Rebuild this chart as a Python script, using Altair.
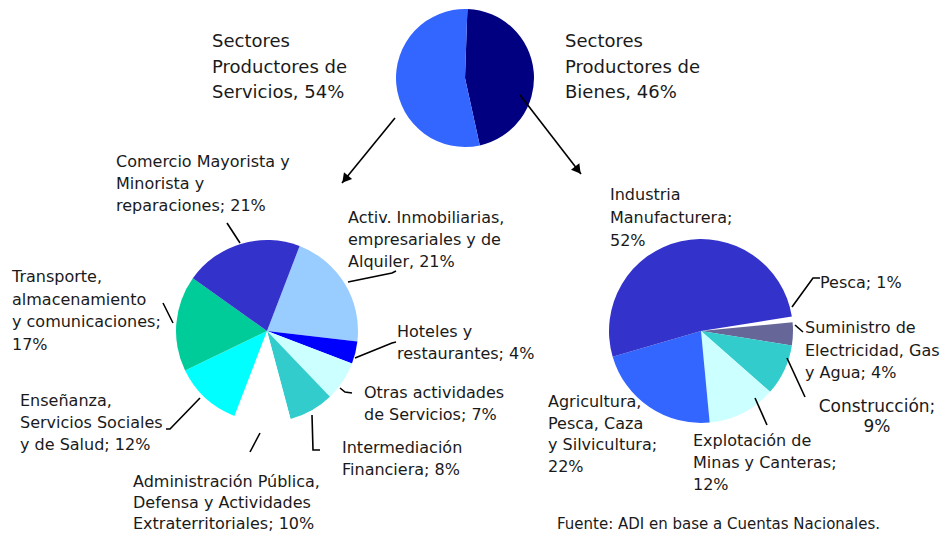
import math
import altair as alt
import pandas as pd

# ---------------- data ----------------
top_categories = ["Sectores Productores de Bienes", "Sectores Productores de Servicios"]
top_values = [46, 54]
top_colors = ["#000080", "#3366FF"]

serv_categories = [
    "Activ. Inmobiliarias, empresariales y de Alquiler",
    "Hoteles y restaurantes",
    "Otras actividades de Servicios",
    "Intermediación Financiera",
    "Administración Pública, Defensa y Actividades Extraterritoriales",
    "Enseñanza, Servicios Sociales y de Salud",
    "Transporte, almacenamiento y comunicaciones",
    "Comercio Mayorista y Minorista y reparaciones",
]
serv_values = [21, 4, 7, 8, 10, 12, 17, 21]
serv_colors = ["#99CCFF", "#0000FF", "#CCFFFF", "#33CCCC", "#FFFFFF", "#00FFFF", "#00CC99", "#3333CC"]

bien_categories = [
    "Pesca",
    "Suministro de Electricidad, Gas y Agua",
    "Construcción",
    "Explotación de Minas y Canteras",
    "Agricultura, Pesca, Caza y Silvicultura",
    "Industria Manufacturera",
]
bien_values = [1, 4, 9, 12, 22, 52]
bien_colors = ["#FFFFFF", "#666699", "#33CCCC", "#CCFFFF", "#3366FF", "#3333CC"]

source_text = "Fuente: ADI en base a Cuentas Nacionales."

# ---------------- layout ----------------
W, H = 932, 527
OFF = 8  # page margin

# label lines ({p} = percentage from data), x, first-line y, line height, font size, align
label_layout = [
    (["Sectores", "Productores de", "Servicios, {p}%"], top_values[1], 212, 42, 25.5, 18, "left"),
    (["Sectores", "Productores de", "Bienes, {p}%"], top_values[0], 565, 42, 25.5, 18, "left"),
    (["Comercio Mayorista y", "Minorista y", "reparaciones; {p}%"], serv_values[7], 116, 162, 22, 16, "left"),
    (["Activ. Inmobiliarias,", "empresariales y de", "Alquiler, {p}%"], serv_values[0], 348, 218, 22, 16, "left"),
    (["Transporte,", "almacenamiento", "y comunicaciones;", "{p}%"], serv_values[6], 12, 277, 22.7, 16, "left"),
    (["Hoteles y", "restaurantes; {p}%"], serv_values[1], 397, 332, 21.5, 16, "left"),
    (["Otras actividades", "de Servicios; {p}%"], serv_values[2], 364, 393, 21.5, 16, "left"),
    (["Intermediación", "Financiera; {p}%"], serv_values[3], 342, 448, 22, 16, "left"),
    (["Enseñanza,", "Servicios Sociales", "y de Salud; {p}%"], serv_values[5], 20, 401, 22, 16, "left"),
    (["Administración Pública,", "Defensa y Actividades", "Extraterritoriales; {p}%"], serv_values[4], 133, 482, 21, 16, "left"),
    (["Industria", "Manufacturera;", "{p}%"], bien_values[5], 610, 195, 23, 16, "left"),
    (["Pesca; {p}%"], bien_values[0], 820, 283, 22, 16, "left"),
    (["Suministro de", "Electricidad, Gas", "y Agua; {p}%"], bien_values[1], 805, 328, 22.5, 16, "left"),
    (["Construcción;", "{p}%"], bien_values[2], 877, 407, 20, 17, "center"),
    (["Agricultura,", "Pesca, Caza", "y Silvicultura;", "{p}%"], bien_values[4], 548, 402, 21.7, 16, "left"),
    (["Explotación de", "Minas y Canteras;", "{p}%"], bien_values[3], 693, 441, 22, 16, "left"),
]
source_layout = (557, 524, 15)

leader_lines = [
    [(227, 223), (240, 243)],
    [(163, 303), (173, 323)],
    [(166, 429), (170, 429), (200, 398)],
    [(250, 452), (260, 433)],
    [(312, 415), (313, 450), (320, 450)],
    [(340, 388), (345, 392), (352, 393)],
    [(355, 358), (392, 343), (396, 342)],
    [(348, 282), (392, 273), (396, 271)],
    [(792, 307), (813, 278), (820, 278)],
    [(795, 325), (803, 332)],
    [(787, 358), (805, 397)],
    [(755, 398), (767, 425)],
]
arrows = [((395, 118), (342, 183)), ((520, 95), (581, 174))]

# pies: center x, center y, radius, start angle (deg clockwise from 12 o'clock)
pie_top = (465, 78, 69, 2)
pie_serv = (267, 331, 91, 21)
pie_bien = (701, 331, 92, 81)

FONT = "DejaVu Sans"
TXT = "#1a1a1a"

xs = alt.Scale(domain=[OFF, OFF + W], range=[0, W])
ys = alt.Scale(domain=[OFF, OFF + H], range=[0, H])


def pie(cats, vals, colors, geo, tag):
    cx, cy, r, start = geo
    df = pd.DataFrame({f"cat_{tag}": cats, f"val_{tag}": vals, f"ord_{tag}": list(range(len(cats)))})
    a = math.radians(start)
    return alt.Chart(df).mark_arc(radius=r).encode(
        theta=alt.Theta(f"val_{tag}:Q", stack=True, scale=alt.Scale(range=[a, a + 2 * math.pi])),
        color=alt.Color(f"cat_{tag}:N", scale=alt.Scale(domain=cats, range=colors), legend=None),
        order=alt.Order(f"ord_{tag}:Q"),
        x=alt.value(cx - OFF),
        y=alt.value(cy - OFF),
    )


# text rows
rows = []
for lines, pct, x, y0, lh, fs, align in label_layout:
    for i, ln in enumerate(lines):
        rows.append({"x": x, "y": y0 + i * lh, "t": ln.format(p=pct), "fs": fs, "al": align})
rows.append({"x": source_layout[0], "y": source_layout[1], "t": source_text, "fs": source_layout[2], "al": "left"})
tdf = pd.DataFrame(rows)


def text_layer(align):
    return alt.Chart(tdf[tdf["al"] == align]).mark_text(
        align=align, baseline="middle", font=FONT, color=TXT
    ).encode(
        x=alt.X("x:Q", scale=xs, axis=None),
        y=alt.Y("y:Q", scale=ys, axis=None),
        text="t:N",
        size=alt.Size("fs:Q", scale=None),
    )


lrows = []
for i, pts in enumerate(leader_lines + [[a, b] for a, b in arrows]):
    for k, (x, y) in enumerate(pts):
        lrows.append({"id": i, "k": k, "x": x, "y": y})
ldf = pd.DataFrame(lrows)

lines_layer = alt.Chart(ldf).mark_line(color="#000000", strokeWidth=1.6).encode(
    x=alt.X("x:Q", scale=xs, axis=None),
    y=alt.Y("y:Q", scale=ys, axis=None),
    detail="id:N",
    order="k:Q",
)

arows = []
for (x0, y0), (x1, y1) in arrows:
    dx, dy = x1 - x0, y1 - y0
    n = math.hypot(dx, dy)
    ux, uy = dx / n, dy / n
    ang = math.degrees(math.atan2(ux, -uy)) % 360
    arows.append({"x": x1 - ux * 5, "y": y1 - uy * 5, "ang": ang})
adf = pd.DataFrame(arows)

heads = alt.Chart(adf).mark_point(shape="triangle-up", filled=True, color="#000000", size=110, opacity=1).encode(
    x=alt.X("x:Q", scale=xs, axis=None),
    y=alt.Y("y:Q", scale=ys, axis=None),
    angle=alt.Angle("ang:Q", scale=None),
)

chart = alt.layer(
    pie(top_categories, top_values, top_colors, pie_top, "t"),
    pie(serv_categories, serv_values, serv_colors, pie_serv, "s"),
    pie(bien_categories, bien_values, bien_colors, pie_bien, "b"),
    lines_layer,
    heads,
    text_layer("left"),
    text_layer("center"),
).resolve_scale(
    theta="independent", color="independent"
).properties(
    width=W, height=H, padding=0, autosize="none", background="white"
).configure_view(stroke=None)

chart.save("out.html", embed_options={"renderer": "svg", "actions": False})
